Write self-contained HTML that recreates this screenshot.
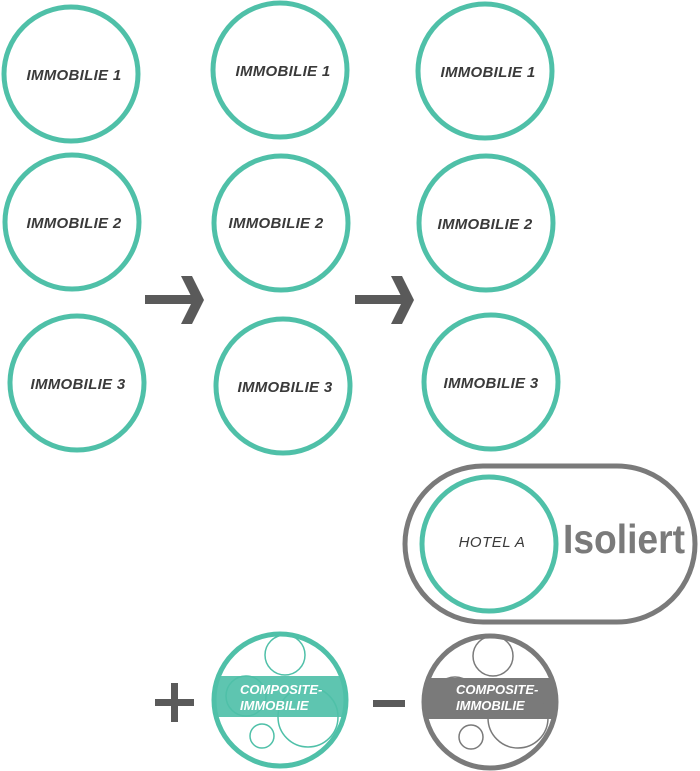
<!DOCTYPE html>
<html><head><style>
html,body{margin:0;padding:0;background:#fff;}
svg{display:block;}
text{font-family:"Liberation Sans",sans-serif;}
.l{font-size:15px;font-weight:bold;font-style:italic;fill:#3a3a3a;text-anchor:middle;letter-spacing:0.3px;}
.c{fill:none;stroke:#4fc0a8;stroke-width:5;}
</style></head><body>
<svg width="700" height="771" viewBox="0 0 700 771">
<g class="c">
<circle cx="71" cy="74" r="67"/>
<circle cx="72" cy="222" r="67"/>
<circle cx="77" cy="383" r="67"/>
<circle cx="280" cy="70" r="67"/>
<circle cx="281" cy="223" r="67"/>
<circle cx="283" cy="386" r="67"/>
<circle cx="485" cy="71" r="67"/>
<circle cx="486" cy="223" r="67"/>
<circle cx="491" cy="382" r="67"/>
</g>
<text class="l" x="74" y="80">IMMOBILIE 1</text>
<text class="l" x="74" y="228">IMMOBILIE 2</text>
<text class="l" x="78" y="389">IMMOBILIE 3</text>
<text class="l" x="283" y="76">IMMOBILIE 1</text>
<text class="l" x="276" y="228">IMMOBILIE 2</text>
<text class="l" x="285" y="392">IMMOBILIE 3</text>
<text class="l" x="488" y="77">IMMOBILIE 1</text>
<text class="l" x="485" y="229">IMMOBILIE 2</text>
<text class="l" x="491" y="388">IMMOBILIE 3</text>
<g fill="#5a5a5a">
<rect x="145" y="295" width="52" height="9"/>
<polygon points="181,276 192,276 204,300 192,324 181,324 193,300"/>
<rect x="355" y="295" width="52" height="9"/>
<polygon points="391,276 402,276 414,300 402,324 391,324 403,300"/>
<rect x="155" y="699" width="39" height="7"/>
<rect x="171" y="683" width="7" height="39"/>
<rect x="373" y="700" width="32" height="7"/>
</g>
<rect x="405" y="466" width="290" height="156" rx="78" fill="none" stroke="#7a7a7a" stroke-width="5"/>
<circle cx="489" cy="544" r="67" class="c"/>
<text x="492" y="547" style="font-size:15px;font-style:italic;fill:#3a3a3a;text-anchor:middle;letter-spacing:0.5px">HOTEL A</text>
<text x="563" y="553" textLength="122" lengthAdjust="spacingAndGlyphs" style="font-size:41px;font-weight:bold;fill:#7a7a7a">Isoliert</text>
<defs>
<clipPath id="g1"><circle cx="280" cy="700" r="66"/></clipPath>
<clipPath id="g2"><circle cx="490" cy="702" r="66"/></clipPath>
</defs>
<rect x="214" y="676" width="132" height="41" fill="#5ec5b0" clip-path="url(#g1)"/>
<g fill="none" stroke="#4fc0a8" stroke-width="1.5">
<circle cx="285" cy="655" r="20"/>
<circle cx="246" cy="696" r="20"/>
<circle cx="308" cy="717" r="30"/>
<circle cx="262" cy="736" r="12"/>
</g>
<circle cx="280" cy="700" r="66" class="c"/>
<text x="240" y="694" style="font-size:13px;font-weight:bold;font-style:italic;fill:#fff">COMPOSITE-</text>
<text x="240" y="710" style="font-size:13px;font-weight:bold;font-style:italic;fill:#fff">IMMOBILIE</text>
<rect x="424" y="678" width="132" height="41" fill="#7a7a7a" clip-path="url(#g2)"/>
<g fill="none" stroke="#7a7a7a" stroke-width="1.5">
<circle cx="493" cy="656" r="20"/>
<circle cx="455" cy="697" r="20"/>
<circle cx="518" cy="718" r="30"/>
<circle cx="471" cy="737" r="12"/>
</g>
<circle cx="490" cy="702" r="66" fill="none" stroke="#7a7a7a" stroke-width="5"/>
<text x="456" y="694" style="font-size:13px;font-weight:bold;font-style:italic;fill:#fff">COMPOSITE-</text>
<text x="456" y="710" style="font-size:13px;font-weight:bold;font-style:italic;fill:#fff">IMMOBILIE</text>
</svg>
</body></html>
